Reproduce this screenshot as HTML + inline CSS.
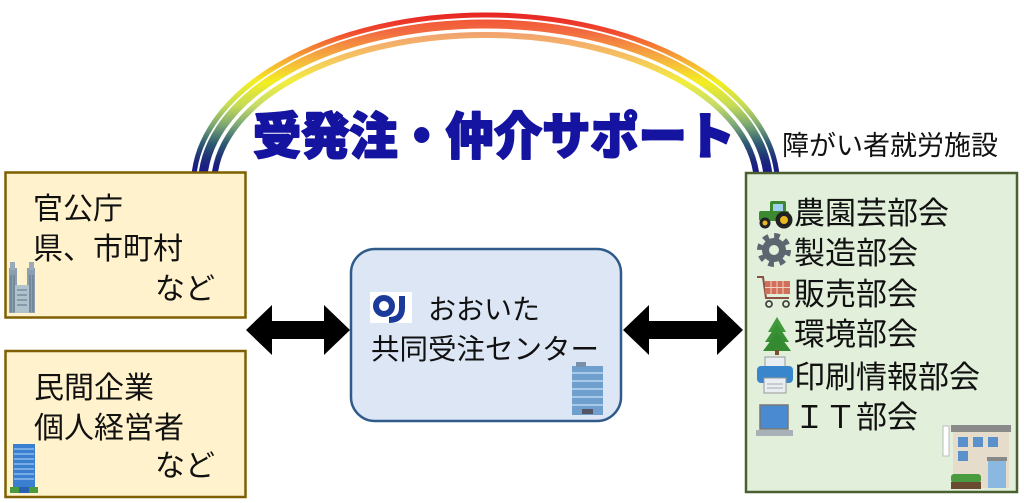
<!DOCTYPE html>
<html><head><meta charset="utf-8"><style>
html,body{margin:0;padding:0;background:#fff;}
svg{display:block;}
text{font-family:"Liberation Sans","Noto Sans CJK JP",sans-serif;}
</style></head><body>
<svg width="1024" height="503" viewBox="0 0 1024 503" xmlns="http://www.w3.org/2000/svg">
<defs>
<linearGradient id="g1" gradientUnits="userSpaceOnUse" x1="0" y1="5" x2="0" y2="172">
<stop offset="0" stop-color="#e2141c"/><stop offset="0.16" stop-color="#f04a30"/><stop offset="0.32" stop-color="#f6a636"/><stop offset="0.46" stop-color="#f4ee22"/><stop offset="0.6" stop-color="#c6dc56"/><stop offset="0.72" stop-color="#7aa872"/><stop offset="0.83" stop-color="#2e5a72"/><stop offset="0.93" stop-color="#1c2a7a"/><stop offset="1" stop-color="#18188a"/>
</linearGradient>
<linearGradient id="g2" gradientUnits="userSpaceOnUse" x1="0" y1="5" x2="0" y2="172">
<stop offset="0" stop-color="#f0402c"/><stop offset="0.16" stop-color="#f26a40"/><stop offset="0.32" stop-color="#f6b040"/><stop offset="0.46" stop-color="#f4ee22"/><stop offset="0.6" stop-color="#c6dc56"/><stop offset="0.72" stop-color="#7aa872"/><stop offset="0.83" stop-color="#2e5a72"/><stop offset="0.93" stop-color="#1c2a7a"/><stop offset="1" stop-color="#18188a"/>
</linearGradient>
<linearGradient id="g3" gradientUnits="userSpaceOnUse" x1="0" y1="5" x2="0" y2="172">
<stop offset="0" stop-color="#f09070"/><stop offset="0.16" stop-color="#f2a070"/><stop offset="0.32" stop-color="#f6c460"/><stop offset="0.46" stop-color="#f2ee40"/><stop offset="0.6" stop-color="#c6dc66"/><stop offset="0.72" stop-color="#7aa878"/><stop offset="0.83" stop-color="#2e5a72"/><stop offset="0.93" stop-color="#1c2a7a"/><stop offset="1" stop-color="#18188a"/>
</linearGradient>
</defs>

<!-- rainbow arcs -->
<path d="M 193.5 185 A 292 170 0 0 1 777.5 185" fill="none" stroke="url(#g1)" stroke-width="5"/>
<path d="M 202.5 185 A 283 161 0 0 1 768.5 185" fill="none" stroke="url(#g2)" stroke-width="9"/>
<path d="M 214 185 A 271.5 150 0 0 1 757 185" fill="none" stroke="url(#g3)" stroke-width="6"/>

<!-- title -->
<text x="253" y="154" font-size="50" font-weight="900" fill="#1414a0" stroke="#1414a0" stroke-width="2" stroke-linejoin="round" textLength="482" lengthAdjust="spacingAndGlyphs" style="font-family:'Noto Sans CJK JP',sans-serif">受発注・仲介サポート</text>

<text x="782" y="155" font-size="27" fill="#111">障がい者就労施設</text>

<!-- left boxes -->
<rect x="5.5" y="172.5" width="240" height="145" fill="#fff2cc" stroke="#7f6000" stroke-width="2.5"/>
<rect x="5.5" y="351" width="240" height="146" fill="#fff2cc" stroke="#7f6000" stroke-width="2.5"/>

<text x="33" y="219" font-size="30" fill="#111">官公庁</text>
<text x="33" y="259" font-size="30" fill="#111">県、市町村</text>
<text x="155" y="299" font-size="30" fill="#111">など</text>

<text x="34" y="398" font-size="30" fill="#111">民間企業</text>
<text x="34" y="438" font-size="30" fill="#111">個人経営者</text>
<text x="155" y="476" font-size="30" fill="#111">など</text>

<!-- gov building icon -->
<g>
<rect x="9" y="268" width="8" height="45" fill="#8aa0b0"/>
<rect x="27" y="268" width="8" height="45" fill="#8aa0b0"/>
<rect x="15" y="285" width="14" height="28" fill="#b0c2cc"/>
<rect x="10" y="262" width="5" height="8" fill="#9ab"/>
<rect x="29" y="262" width="5" height="8" fill="#9ab"/>
<g stroke="#5d7488" stroke-width="1">
<line x1="11" y1="275" x2="11" y2="312"/><line x1="14" y1="275" x2="14" y2="312"/>
<line x1="30" y1="275" x2="30" y2="312"/><line x1="33" y1="275" x2="33" y2="312"/>
<line x1="17" y1="290" x2="27" y2="290"/><line x1="17" y1="295" x2="27" y2="295"/><line x1="17" y1="300" x2="27" y2="300"/><line x1="17" y1="305" x2="27" y2="305"/>
</g>
</g>
<!-- company building icon -->
<g>
<rect x="13" y="444" width="22" height="44" fill="#3a7fd0"/>
<g stroke="#9cc8f0" stroke-width="1.3">
<line x1="14" y1="449" x2="34" y2="449"/><line x1="14" y1="454" x2="34" y2="454"/><line x1="14" y1="459" x2="34" y2="459"/><line x1="14" y1="464" x2="34" y2="464"/><line x1="14" y1="469" x2="34" y2="469"/><line x1="14" y1="474" x2="34" y2="474"/><line x1="14" y1="479" x2="34" y2="479"/>
</g>
<rect x="10" y="487" width="28" height="6" fill="#4a9a40"/>
<rect x="19" y="487" width="10" height="6" fill="#2a5fb0"/>
</g>

<!-- center box -->
<rect x="351" y="249" width="270" height="172" rx="24" fill="#dce6f4" stroke="#2f5a8a" stroke-width="2.5"/>
<rect x="370" y="292" width="42" height="31" fill="#fff"/>
<circle cx="384" cy="306" r="8" fill="none" stroke="#1c3a9a" stroke-width="6"/>
<path d="M 402 296 L 402 308 Q 402 320 389 320" fill="none" stroke="#1c3a9a" stroke-width="6"/>
<text x="428" y="319" font-size="28" fill="#111">おおいた</text>
<text x="371" y="359" font-size="28.5" fill="#111">共同受注センター</text>
<!-- small building -->
<rect x="572" y="366" width="31" height="49" fill="#6f9fcc"/>
<rect x="576" y="362" width="10" height="5" fill="#7890a8"/>
<g stroke="#a8c8e8" stroke-width="2">
<line x1="572" y1="373" x2="603" y2="373"/><line x1="572" y1="381" x2="603" y2="381"/><line x1="572" y1="389" x2="603" y2="389"/><line x1="572" y1="397" x2="603" y2="397"/><line x1="572" y1="405" x2="603" y2="405"/>
</g>
<rect x="582" y="409" width="11" height="5" fill="#556"/>

<!-- arrows -->
<polygon points="246,330 272,305 272,321 324,321 324,305 350,330 324,355 324,339 272,339 272,355" fill="#000"/>
<polygon points="623,330 649,305 649,321 717,321 717,305 743,330 717,355 717,339 649,339 649,355" fill="#000"/>

<!-- right box -->
<rect x="746" y="173" width="271" height="319" fill="#e2efda" stroke="#4a6030" stroke-width="2.5"/>

<text x="794" y="224" font-size="31" fill="#111">農園芸部会</text>
<text x="794" y="264" font-size="31" fill="#111">製造部会</text>
<text x="794" y="305" font-size="31" fill="#111">販売部会</text>
<text x="794" y="345" font-size="31" fill="#111">環境部会</text>
<text x="794" y="388" font-size="31" fill="#111">印刷情報部会</text>
<text x="794" y="428" font-size="31" fill="#111">ＩＴ部会</text>

<!-- tractor -->
<g>
<rect x="770" y="201" width="16" height="14" rx="2" fill="#3c8a30"/>
<rect x="773" y="204" width="10" height="7" fill="#9fd0f0"/>
<rect x="759" y="211" width="30" height="10" rx="2" fill="#3c8a30"/>
<circle cx="784" cy="220" r="8.5" fill="#222"/><circle cx="784" cy="220" r="4" fill="#e8b820"/>
<circle cx="765" cy="223" r="5.5" fill="#222"/><circle cx="765" cy="223" r="2.5" fill="#e8b820"/>
</g>
<!-- gear -->
<g>
<circle cx="774" cy="250" r="14" fill="none" stroke="#5c6670" stroke-width="6" stroke-dasharray="5.5 5.5"/>
<circle cx="774" cy="250" r="12" fill="#5c6670"/>
<circle cx="774" cy="250" r="5" fill="#e2efda"/>
</g>
<!-- cart -->
<g>
<path d="M 757 277 L 763 277 L 766 298 L 789 298" fill="none" stroke="#8a5040" stroke-width="2"/>
<rect x="765" y="281" width="25" height="13" fill="#d0705a"/>
<g stroke="#f3d0c0" stroke-width="1"><line x1="771" y1="281" x2="771" y2="294"/><line x1="777" y1="281" x2="777" y2="294"/><line x1="783" y1="281" x2="783" y2="294"/><line x1="765" y1="287.5" x2="790" y2="287.5"/></g>
<circle cx="769" cy="304" r="3" fill="none" stroke="#444" stroke-width="1.8"/>
<circle cx="786" cy="304" r="3" fill="none" stroke="#444" stroke-width="1.8"/>
</g>
<!-- tree -->
<g>
<polygon points="777,317 768,332 786,332" fill="#3e9a3a"/>
<polygon points="777,324 765,342 789,342" fill="#3a9035"/>
<polygon points="777,332 763,351 791,351" fill="#348a30"/>
<rect x="775" y="350" width="4" height="5" fill="#7a5030"/>
</g>
<!-- printer -->
<g>
<rect x="765" y="357" width="20" height="10" fill="#e8eef2" stroke="#999" stroke-width="1"/>
<rect x="757" y="366" width="36" height="17" rx="4" fill="#3a86cc"/>
<rect x="764" y="378" width="22" height="15" fill="#e8eef2" stroke="#999" stroke-width="1"/>
<line x1="767" y1="384" x2="783" y2="384" stroke="#aaa"/><line x1="767" y1="388" x2="783" y2="388" stroke="#aaa"/>
</g>
<!-- laptop -->
<g>
<rect x="760" y="405" width="28" height="24" fill="#4a8ad0" stroke="#777" stroke-width="1.5"/>
<rect x="756" y="430" width="37" height="6" fill="#a8b0b8"/>
</g>
<!-- facility building -->
<g>
<rect x="943" y="426" width="6" height="30" fill="#fff" stroke="#bbb" stroke-width="1"/>
<rect x="951" y="425" width="60" height="7" fill="#8a8a8a"/>
<rect x="953" y="432" width="56" height="56" fill="#e6dccc"/>
<g fill="#5a90cc">
<rect x="958" y="437" width="10" height="10"/><rect x="973" y="437" width="10" height="10"/><rect x="988" y="437" width="10" height="10"/>
<rect x="958" y="451" width="10" height="10"/>
</g>
<rect x="987" y="457" width="20" height="4" fill="#888"/>
<rect x="988" y="461" width="18" height="27" fill="#8ab8e0"/>
<rect x="951" y="474" width="30" height="9" rx="3" fill="#4a9a40"/>
<rect x="951" y="482" width="30" height="7" fill="#6a4a30"/>
</g>
</svg>
</body></html>
